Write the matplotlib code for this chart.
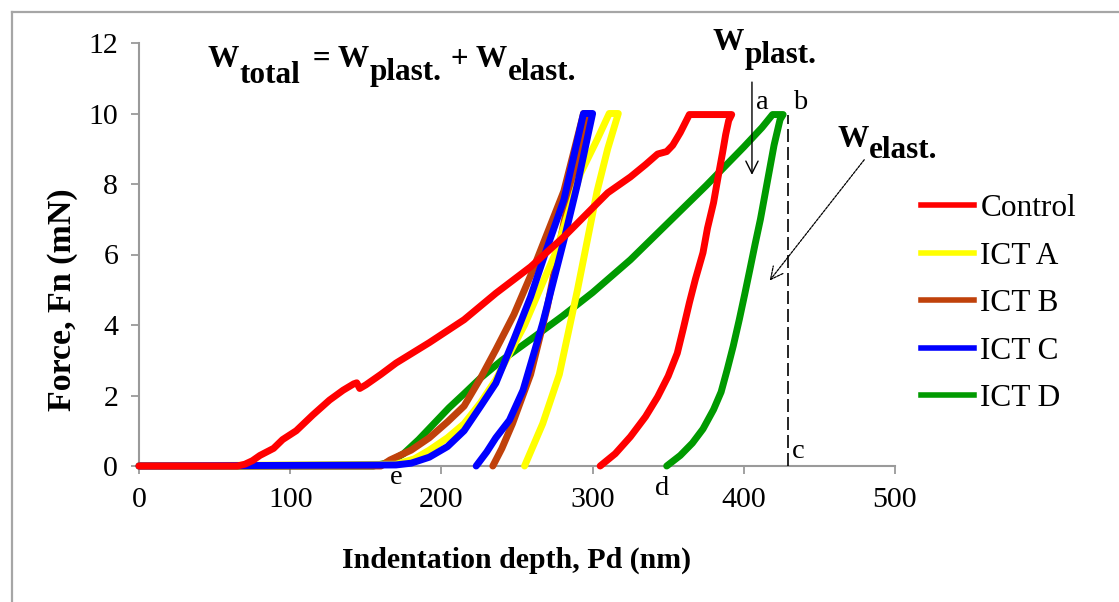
import matplotlib
matplotlib.use('Agg')
import matplotlib.pyplot as plt
from matplotlib.lines import Line2D

plt.rcParams['font.family'] = ['Liberation Serif', 'DejaVu Serif']

# load-unload curves, depth (nm) vs force (mN)
control_depth = [0, 65, 70, 75, 80, 89, 95, 104, 115, 126, 135, 142, 144, 146, 150, 160, 170,
                 192, 215, 236, 259, 281, 303, 310, 316, 325, 335, 343, 349, 353, 358, 362,
                 364, 392, 390, 388, 386, 383, 380, 376, 373, 368, 364, 360, 356, 350, 343,
                 335, 325, 315, 305]
control_force = [0, 0, 0.05, 0.15, 0.3, 0.5, 0.75, 1.0, 1.45, 1.87, 2.15, 2.33, 2.36, 2.2, 2.3,
                 2.6, 2.92, 3.5, 4.15, 4.9, 5.65, 6.5, 7.45, 7.75, 7.93, 8.2, 8.55, 8.85, 8.92,
                 9.1, 9.46, 9.8, 9.97, 9.97, 9.8, 9.4, 8.9, 8.2, 7.47, 6.75, 6.05, 5.3, 4.63,
                 3.9, 3.2, 2.55, 1.96, 1.4, 0.83, 0.35, 0]

icta_depth = [0, 170, 182, 192, 204, 215, 226, 236, 255, 276, 292, 303, 311, 317,
              310, 303, 290, 278, 267, 260, 255]
icta_force = [0, 0.05, 0.2, 0.45, 0.8, 1.2, 1.8, 2.45, 4.0, 6.1, 8.3, 9.26, 10.0, 10.0,
              9.0, 7.8, 5.0, 2.6, 1.2, 0.5, 0]

ictb_depth = [0, 160, 166, 180, 192, 204, 215, 226, 236, 248, 259, 270, 281, 294, 297,
              289, 281, 270, 259, 247, 240, 234]
ictb_force = [0, 0, 0.17, 0.45, 0.8, 1.25, 1.7, 2.5, 3.3, 4.3, 5.4, 6.6, 7.8, 10.0, 10.0,
              8.4, 6.9, 4.5, 2.6, 1.2, 0.5, 0]

ictc_depth = [0, 170, 180, 192, 204, 215, 226, 236, 248, 259, 270, 281, 294, 300,
              290, 281, 267, 254, 245, 236, 230, 223]
ictc_force = [0, 0.03, 0.08, 0.25, 0.55, 1.0, 1.7, 2.35, 3.6, 4.8, 6.2, 7.55, 10.0, 10.0,
              8.0, 6.4, 4.05, 2.15, 1.3, 0.8, 0.4, 0]

ictd_depth = [0, 155, 165, 175, 185, 195, 205, 215, 226, 240, 260, 280, 300, 325, 350, 375,
              400, 412, 419, 426, 425, 424, 420, 417, 414, 411, 407.5, 404, 400.5, 397, 393,
              389, 385, 380, 373, 366, 358, 349]
ictd_force = [0, 0, 0.1, 0.35, 0.75, 1.2, 1.65, 2.05, 2.5, 3.0, 3.62, 4.25, 4.92, 5.85, 6.9,
              7.95, 9.05, 9.6, 9.97, 9.97, 9.9, 9.83, 9.1, 8.4, 7.7, 7.0, 6.3, 5.57, 4.85,
              4.15, 3.4, 2.73, 2.1, 1.6, 1.05, 0.65, 0.3, 0]

labels = ['Control', 'ICT A', 'ICT B', 'ICT C', 'ICT D']
colors = ['#ff0000', '#ffff00', '#c0410b', '#0000ff', '#009a00']

# annotation points
max_depth = 429
max_force = 9.97

fig = plt.figure(figsize=(11.19, 6.02), dpi=100)
ax = fig.add_axes([139 / 1119, 1 - 466 / 602, 756 / 1119, 423 / 602])

series = [(control_depth, control_force), (icta_depth, icta_force), (ictb_depth, ictb_force),
          (ictc_depth, ictc_force), (ictd_depth, ictd_force)]
zorders = [7, 5, 4, 6, 3]
for (d, f), c, z in zip(series, colors, zorders):
    ax.plot(d, f, color=c, lw=5, solid_capstyle='round', solid_joinstyle='round',
            zorder=z, clip_on=False)

ax.set_xlim(0, 500)
ax.set_ylim(0, 12)
ax.set_xticks(range(0, 501, 100))
ax.set_yticks(range(0, 13, 2))
ax.tick_params(direction='out', length=6, width=1.3, color='#9a9a9a', labelsize=21.5, pad=9)
for s in ['top', 'right']:
    ax.spines[s].set_visible(False)
for s in ['left', 'bottom']:
    ax.spines[s].set_color('#9a9a9a')
    ax.spines[s].set_linewidth(1.5)

fig.text(517 / 1119, 1 - 560 / 602, 'Indentation depth, Pd (nm)', fontsize=21.5,
         fontweight='bold', ha='center', va='center')
fig.text(62 / 1119, 1 - 300 / 602, 'Force, Fn (mN)', fontsize=24.5, fontweight='bold',
         rotation=90, ha='center', va='center')

# dashed line b-c
ax.plot([max_depth, max_depth], [0, max_force], color='black', lw=1.2,
        dashes=(7.8, 3), zorder=8)


def chain(x, y, parts, size=22.5):
    """place text pieces one after another; parts = (text, drop in points, extra gap)"""
    prev = ax.text(x, y, parts[0][0], fontsize=size, fontweight='bold',
                   ha='left', va='baseline', clip_on=False)
    prev_drop = parts[0][1]
    for txt, drop, dx in parts[1:]:
        prev = ax.annotate(txt, xy=(1, 0), xycoords=prev, xytext=(dx, prev_drop - drop),
                           textcoords='offset points', fontsize=size, fontweight='bold',
                           ha='left', va='bottom', annotation_clip=False)
        prev_drop = drop


chain(45.6, 11.32, [('W', 0), ('total', 11.5, 0), (' = W', 0, 3.5), ('plast.', 9.5, 0),
                    (' + W', 0, 1.5), ('elast.', 9.5, 0)])
chain(379.6, 11.80, [('W', 0), ('plast.', 9, 0)])
chain(462.3, 9.05, [('W', 0), ('elast.', 8, 0)])

# arrows
ax.annotate('', xy=(405.4, 8.18), xytext=(405.4, 10.97),
            arrowprops=dict(arrowstyle='->', color='black', lw=1, mutation_scale=22),
            annotation_clip=False)
ax.annotate('', xy=(416, 5.2), xytext=(480.8, 8.75),
            arrowprops=dict(arrowstyle='->', color='black', lw=0.9, ls=(0, (2, 1)),
                            mutation_scale=22),
            annotation_clip=False)

for letter, x, y in [('a', 412, 10.31), ('b', 437, 10.31), ('c', 436, 0.40),
                     ('d', 346, -0.63), ('e', 170, -0.34)]:
    ax.text(x, y, letter, fontsize=20.5, ha='center', va='center', clip_on=False)

handles = [Line2D([], [], color=c, lw=4) for c in colors]
fig.legend(handles, labels, loc='upper left', bbox_to_anchor=(921 / 1119, 1 - 194 / 602),
           bbox_transform=fig.transFigure, frameon=False, fontsize=22.5, handlelength=1.7,
           handletextpad=0.2, labelspacing=0.595, borderpad=0, borderaxespad=0)

# outer frame (left and top edges visible)
fig.add_artist(Line2D([11.5 / 1119, 11.5 / 1119], [0, 1 - 12 / 602],
                      transform=fig.transFigure, color='#a6a6a6', lw=1.6))
fig.add_artist(Line2D([11.5 / 1119, 1], [1 - 12 / 602, 1 - 12 / 602],
                      transform=fig.transFigure, color='#a6a6a6', lw=1.6))

fig.savefig('out.png', dpi=100)
